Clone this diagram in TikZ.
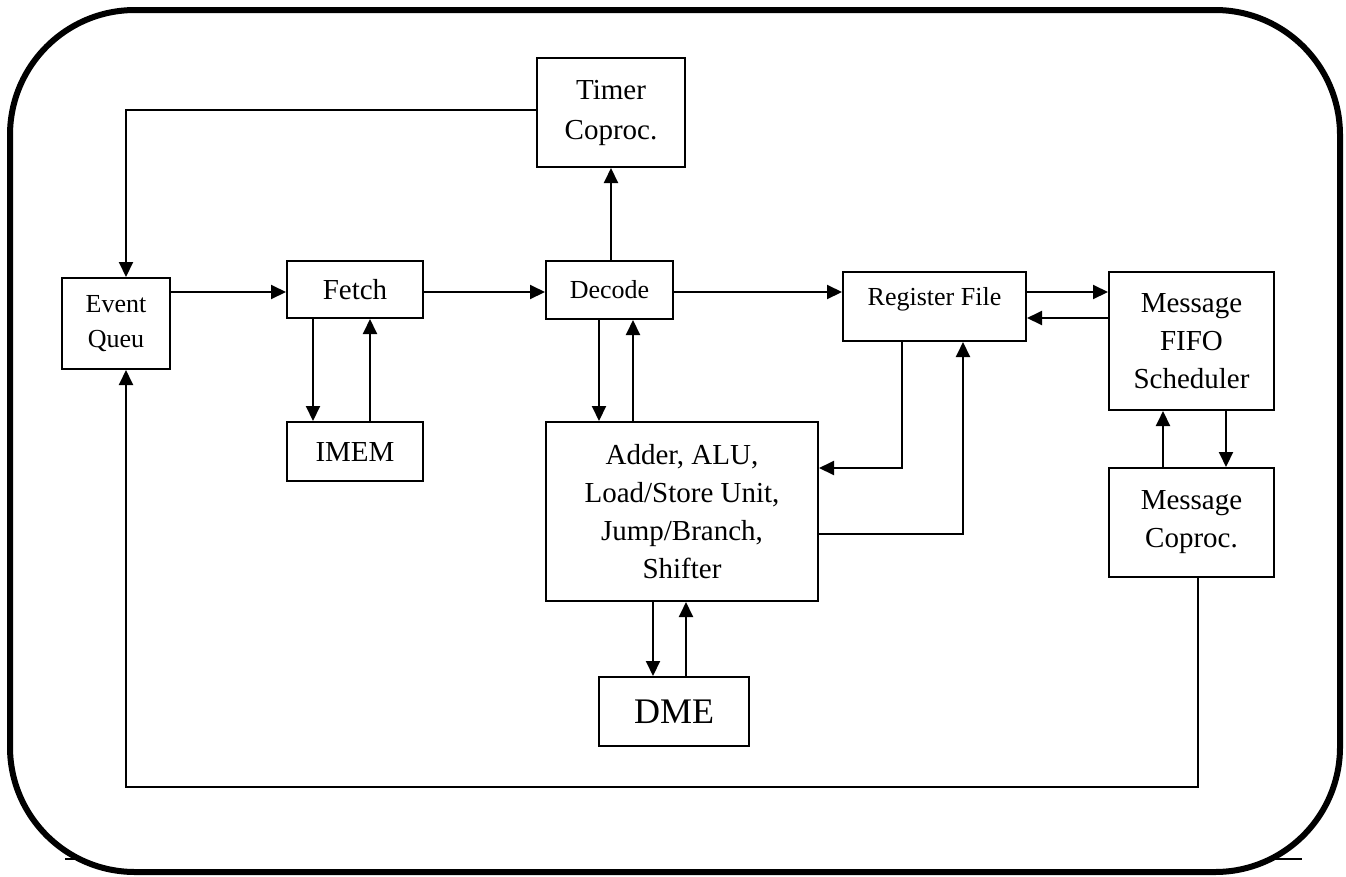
\documentclass[tikz,border=0pt]{standalone}
\usepackage{fontspec}
\setmainfont{Liberation Serif}
\usetikzlibrary{arrows.meta}
\begin{document}
\begin{tikzpicture}[x=1pt,y=-1pt,
  blk/.style={draw, line width=2pt, inner sep=0pt, align=center, fill=white},
  fsmall/.style={font=\fontsize{26}{35}\selectfont},
  fmid/.style={font=\fontsize{29}{38}\selectfont},
  fbig/.style={font=\fontsize{36}{42}\selectfont},
  wire/.style={line width=2pt, -{Triangle[length=15pt,width=14pt]}},
]
\useasboundingbox (0,0) rectangle (1346,876);

% base rule and the rounded frame laid over it
\coordinate (baseL) at (65,859);
\coordinate (baseR) at (1302,859);
\draw[line width=2pt] (baseL) -- (baseR);
\draw[line width=6pt, rounded corners=125pt, fill=white] (10,10) rectangle (1340,872);

% blocks
\node[blk, fsmall, minimum width=108pt, minimum height=91pt] (evq)    at (116,323.5) {Event\\Queu};
\node[blk, fmid,   minimum width=136pt, minimum height=57pt] (fetch)  at (355,289.5) {Fetch};
\node[blk, fmid,   minimum width=136pt, minimum height=59pt] (imem)   at (355,451.5) {IMEM};
\node[blk, fsmall, minimum width=127pt, minimum height=58pt] (decode) at (609.5,290) {Decode};
\node[blk, font=\fontsize{29}{40}\selectfont, minimum width=148pt, minimum height=109pt] (timer) at (611,112.5) {Timer\\Coproc.};
\node[blk, fmid,   minimum width=272pt, minimum height=179pt] (alu)    at (682,511.5) {Adder, ALU,\\Load/Store Unit,\\Jump/Branch,\\Shifter};
\node[blk, fbig,   minimum width=150pt, minimum height=69pt] (dme)    at (674,711.5) {DME};
\node[blk,         minimum width=183pt, minimum height=69pt] (reg)    at (934.5,306.5) {};
\node[fsmall] (regtxt) at ([yshift=-28pt]reg.north) {Register File};
\node[blk, fmid,   minimum width=165pt, minimum height=138pt] (fifo)  at (1191.5,341) {Message\\FIFO\\Scheduler};
\node[blk, fmid,   minimum width=165pt, minimum height=109pt] (mcop)  at (1191.5,522.5) {Message\\Coproc.};

% routing rows and columns
\coordinate (rowMain)  at (0,292);
\coordinate (rowBack)  at (0,318);
\coordinate (rowTimer) at (0,110);
\coordinate (rowRegA)  at (0,468);
\coordinate (rowAluR)  at (0,534);
\coordinate (rowLoop)  at (0,787);
\coordinate (colQ)     at (126,0);
\coordinate (colFd)    at (313,0);
\coordinate (colFu)    at (370,0);
\coordinate (colDd)    at (599,0);
\coordinate (colDu)    at (633,0);
\coordinate (colMd)    at (653,0);
\coordinate (colMu)    at (686,0);
\coordinate (colRd)    at (902,0);
\coordinate (colRu)    at (963,0);
\coordinate (colSu)    at (1163,0);
\coordinate (colSd)    at (1226,0);
\coordinate (colLoop)  at (1198,0);

% connectors
\draw[wire] (timer.west |- rowTimer) -| (colQ |- evq.north);
\draw[wire] (timer.south |- decode.north) -- (timer.south);
\draw[wire] (evq.east |- rowMain) -- (fetch.west |- rowMain);
\draw[wire] (fetch.east |- rowMain) -- (decode.west |- rowMain);
\draw[wire] (decode.east |- rowMain) -- (reg.west |- rowMain);
\draw[wire] (reg.east |- rowMain) -- (fifo.west |- rowMain);
\draw[wire] (fifo.west |- rowBack) -- (reg.east |- rowBack);
\draw[wire] (colFd |- fetch.south) -- (colFd |- imem.north);
\draw[wire] (colFu |- imem.north) -- (colFu |- fetch.south);
\draw[wire] (colDd |- decode.south) -- (colDd |- alu.north);
\draw[wire] (colDu |- alu.north) -- (colDu |- decode.south);
\draw[wire] (colMd |- alu.south) -- (colMd |- dme.north);
\draw[wire] (colMu |- dme.north) -- (colMu |- alu.south);
\draw[wire] (colRd |- reg.south) |- (alu.east |- rowRegA);
\draw[wire] (alu.east |- rowAluR) -| (colRu |- reg.south);
\draw[wire] (colSu |- mcop.north) -- (colSu |- fifo.south);
\draw[wire] (colSd |- fifo.south) -- (colSd |- mcop.north);
\draw[wire] (colLoop |- mcop.south) |- (colQ |- rowLoop) -- (colQ |- evq.south);
\end{tikzpicture}
\end{document}
